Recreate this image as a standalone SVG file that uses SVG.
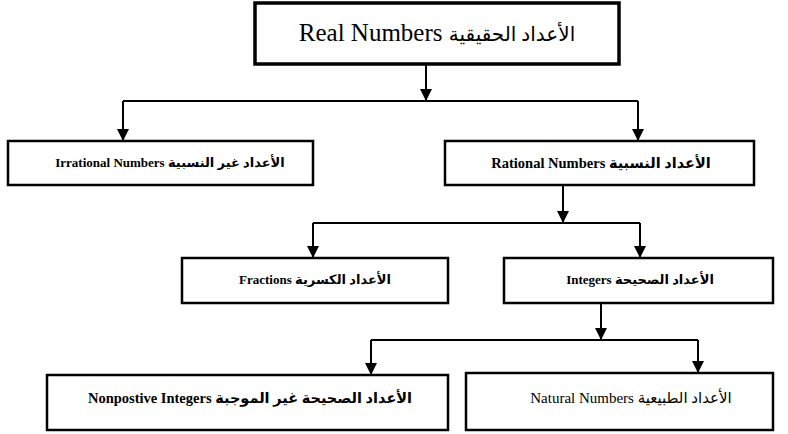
<svg xmlns="http://www.w3.org/2000/svg" width="788" height="434" viewBox="0 0 788 434">
<style>
.box{fill:#fff;stroke:#000;stroke-width:2.5}
.top{stroke-width:3.5}
.con{fill:none;stroke:#000;stroke-width:2}
.lbl{font-family:"Liberation Serif","DejaVu Sans",serif;font-size:13px;font-weight:bold;text-anchor:middle;fill:#000}
.big{font-size:25px;font-weight:normal}
.mid{font-size:14.5px}
.reg{font-size:15px;font-weight:normal}
</style>
<defs>
<marker id="ah" viewBox="0 0 10 10" refX="10" refY="5" markerWidth="13" markerHeight="12" markerUnits="userSpaceOnUse" orient="auto">
<path d="M0,0 L10,5 L0,10 z" fill="#000"/>
</marker>
</defs>
<g id="connectors">
<path class="con" d="M426,64 V101" marker-end="url(#ah)"/>
<path class="con" d="M123,101 H638"/>
<path class="con" d="M123,101 V141" marker-end="url(#ah)"/>
<path class="con" d="M638,101 V141" marker-end="url(#ah)"/>
<path class="con" d="M563,185 V223" marker-end="url(#ah)"/>
<path class="con" d="M313,223 H640"/>
<path class="con" d="M313,223 V258" marker-end="url(#ah)"/>
<path class="con" d="M640,223 V258" marker-end="url(#ah)"/>
<path class="con" d="M601,303 V340" marker-end="url(#ah)"/>
<path class="con" d="M371,340 H698"/>
<path class="con" d="M371,340 V375" marker-end="url(#ah)"/>
<path class="con" d="M698,340 V373" marker-end="url(#ah)"/>
</g>
<g id="real">
<rect class="box top" x="255" y="3" width="364" height="61"/>
<text class="lbl big" x="437" y="41">Real Numbers <tspan font-size="20">الأعداد الحقيقية</tspan></text>
</g>
<g id="irrational">
<rect class="box" x="8" y="141" width="305" height="44"/>
<text class="lbl" x="170" y="167">Irrational Numbers  الأعداد غير النسبية</text>
</g>
<g id="rational">
<rect class="box" x="445" y="141" width="309" height="44"/>
<text class="lbl mid" x="601" y="168">Rational Numbers  الأعداد النسبية</text>
</g>
<g id="fractions">
<rect class="box" x="182" y="258" width="266" height="45"/>
<text class="lbl" x="315" y="284">Fractions  الأعداد الكسرية</text>
</g>
<g id="integers">
<rect class="box" x="504" y="258" width="269" height="45"/>
<text class="lbl" x="640" y="284">Integers  الأعداد الصحيحة</text>
</g>
<g id="nonpositive">
<rect class="box" x="47" y="375" width="401" height="55"/>
<text class="lbl mid" x="250" y="403">Nonpostive Integers الأعداد الصحيحة غير الموجبة</text>
</g>
<g id="natural">
<rect class="box" x="466" y="373" width="307" height="57"/>
<text class="lbl reg" x="631" y="403">Natural Numbers  الأعداد الطبيعية</text>
</g>
</svg>
